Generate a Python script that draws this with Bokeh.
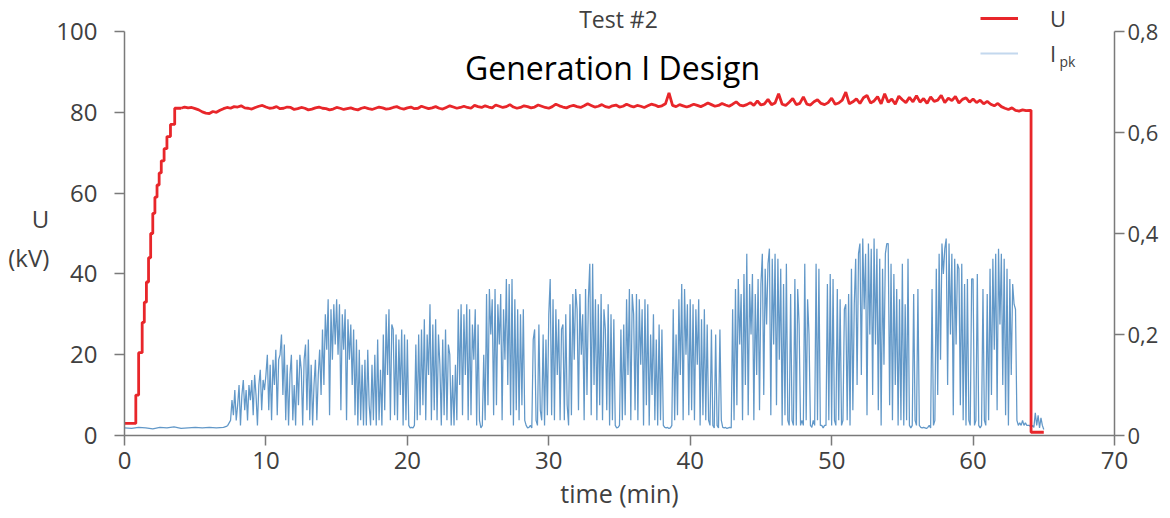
import numpy as np
from bokeh.plotting import figure
from bokeh.models import (Range1d, LinearAxis, FixedTicker, CustomJSTickFormatter,
                          Label, Legend, LegendItem)
from bokeh.embed import file_html
from bokeh.resources import INLINE

# ---------------- data ----------------
X_TICKS = [0, 10, 20, 30, 40, 50, 60, 70]
U_TICKS = [0, 20, 40, 60, 80, 100]
I_TICKS = [0, 0.2, 0.4, 0.6, 0.8]

# voltage ramp (time in min, U in kV), drawn as stairs
U_RAMP_T = [0, 0.6, 0.8, 1.0, 1.25, 1.4, 1.55, 1.7, 1.85, 2.0, 2.15, 2.3, 2.45, 2.6, 2.8, 3.0, 3.25, 3.55, 4.0]
U_RAMP_V = [3, 3, 10, 20.5, 28, 33, 38, 44, 50, 55, 59, 62, 65, 68, 71, 74, 77, 81, 81.0]

# voltage plateau, 4 readings per minute from 4.0 to 63.75 min
U_PLATEAU = [
    81.0, 81.3, 81.1, 81.2, 80.9, 80.6, 80.1, 79.8, 79.7, 80.2, 80.0, 80.5, 80.9, 81.2, 81.0, 81.4,
    81.3, 81.6, 81.1, 81.0, 80.8, 81.2, 81.5, 81.7, 81.3, 81.0, 81.1, 81.4, 80.9, 81.0, 81.3, 81.2,
    80.7, 80.9, 81.2, 81.0, 80.6, 80.8, 81.1, 81.3, 81.0, 80.9, 80.6, 80.8, 81.2, 81.0, 80.7, 80.9,
    81.1, 80.8, 80.6, 81.0, 81.2, 80.9, 80.7, 81.0, 81.3, 81.1, 80.8, 80.9, 81.2, 81.4, 81.0, 80.8,
    81.1, 81.3, 80.9, 81.0, 81.5, 81.2, 80.9, 81.1, 81.4, 81.0, 80.8, 81.2, 81.6, 81.3, 81.0, 81.2,
    81.5, 81.2, 81.0, 81.7, 81.4, 81.2, 81.6, 81.3, 81.1, 81.8, 81.5, 81.2, 81.4, 81.9, 81.3, 81.0,
    81.2, 81.6, 81.4, 81.1, 81.3, 81.8, 81.5, 81.2, 81.0, 81.4, 82.0, 81.6, 81.3, 81.1, 81.5, 81.7,
    81.4, 81.2, 81.6, 82.1, 81.7, 81.3, 81.5, 81.9, 81.4, 81.2, 81.6, 81.8, 81.3, 81.5, 82.0, 81.6,
    81.3, 81.7, 81.5, 81.2, 81.6, 82.0, 81.8, 81.4, 81.6, 82.1, 84.8, 81.7, 81.4, 81.9, 81.6, 81.3,
    81.6, 82.0, 81.7, 81.4, 81.8, 82.3, 81.9, 81.5, 81.7, 82.2, 81.8, 81.5, 82.0, 82.6, 81.8, 81.6,
    81.9, 82.4, 81.7, 82.8, 81.8, 82.1, 83.2, 81.9, 82.3, 84.6, 82.0, 81.7, 82.5, 83.4, 81.9, 82.2,
    83.8, 82.0, 81.8, 82.6, 83.1, 82.2, 81.9, 82.4, 83.5, 82.0, 82.3, 83.0, 85.0, 82.1, 82.6, 83.3,
    82.2, 83.6, 84.2, 82.3, 82.8, 83.9, 82.1, 84.6, 82.5, 83.3, 82.0, 84.0, 83.1, 82.4, 83.7, 82.6,
    84.1, 82.5, 83.4, 82.2, 83.8, 82.7, 83.0, 84.2, 82.4, 83.5, 82.9, 83.9, 82.3, 83.2, 83.6, 82.5,
    83.3, 82.4, 83.0, 82.1, 82.7, 82.0, 81.6, 82.2, 81.4, 81.0, 80.7, 81.1, 80.5, 80.3, 80.6, 80.4,
]
U_END_T = [64.0, 64.1, 64.1, 65.0]
U_END_V = [80.5, 80.5, 0.8, 0.8]

# peak current (A): quiet start, then 10 readings per minute from 7.0 min
I_PRE_T = [0, 0.5, 1.0, 1.5, 2.0, 2.5, 3.0, 3.5, 4.0, 4.5, 5.0, 5.5, 6.0, 6.5]
I_PRE_V = [0.015, 0.014, 0.016, 0.015, 0.013, 0.016, 0.015, 0.017, 0.014, 0.015, 0.016, 0.015, 0.016, 0.015]
I_PK = [
    0.016, 0.017, 0.018, 0.02, 0.025, 0.03, 0.07, 0.04, 0.09, 0.03,
    0.06, 0.10, 0.02, 0.08, 0.11, 0.05, 0.09, 0.03, 0.10, 0.07,
    0.11, 0.04, 0.12, 0.08, 0.02, 0.10, 0.13, 0.05, 0.11, 0.09,
    0.12, 0.16, 0.05, 0.14, 0.03, 0.15, 0.10, 0.17, 0.04, 0.15,
    0.16, 0.20, 0.08, 0.18, 0.03, 0.14, 0.02, 0.12, 0.16, 0.03,
    0.10, 0.02, 0.15, 0.06, 0.16, 0.13, 0.02, 0.15, 0.18, 0.05,
    0.19, 0.03, 0.14, 0.02, 0.10, 0.15, 0.03, 0.12, 0.17, 0.08,
    0.21, 0.10, 0.24, 0.17, 0.27, 0.04, 0.25, 0.15, 0.26, 0.18,
    0.27, 0.16, 0.26, 0.05, 0.24, 0.17, 0.25, 0.03, 0.23, 0.15,
    0.22, 0.10, 0.21, 0.04, 0.19, 0.02, 0.17, 0.03, 0.14, 0.02,
    0.15, 0.02, 0.17, 0.06, 0.02, 0.14, 0.03, 0.16, 0.02, 0.19,
    0.03, 0.13, 0.02, 0.20, 0.05, 0.24, 0.12, 0.25, 0.03, 0.22,
    0.21, 0.04, 0.20, 0.03, 0.19, 0.08, 0.21, 0.02, 0.20, 0.03,
    0.19, 0.02, 0.015, 0.016, 0.015, 0.02, 0.18, 0.03, 0.20, 0.04,
    0.21, 0.06, 0.23, 0.03, 0.20, 0.12, 0.26, 0.03, 0.22, 0.05,
    0.23, 0.03, 0.20, 0.14, 0.02, 0.19, 0.04, 0.21, 0.03, 0.18,
    0.16, 0.02, 0.12, 0.02, 0.14, 0.03, 0.25, 0.10, 0.26, 0.04,
    0.24, 0.12, 0.26, 0.03, 0.25, 0.04, 0.22, 0.15, 0.25, 0.02,
    0.22, 0.03, 0.015, 0.02, 0.16, 0.03, 0.28, 0.06, 0.29, 0.20,
    0.27, 0.04, 0.29, 0.06, 0.26, 0.18, 0.28, 0.03, 0.25, 0.15,
    0.31, 0.10, 0.30, 0.04, 0.31, 0.02, 0.27, 0.05, 0.25, 0.03,
    0.24, 0.06, 0.25, 0.03, 0.02, 0.015, 0.016, 0.02, 0.015, 0.19,
    0.21, 0.03, 0.02, 0.22, 0.05, 0.03, 0.20, 0.02, 0.19, 0.04,
    0.24, 0.31, 0.04, 0.27, 0.03, 0.25, 0.12, 0.23, 0.03, 0.21,
    0.22, 0.03, 0.24, 0.06, 0.02, 0.26, 0.04, 0.28, 0.15, 0.29,
    0.25, 0.05, 0.28, 0.16, 0.24, 0.03, 0.29, 0.08, 0.27, 0.34,
    0.04, 0.34, 0.10, 0.27, 0.03, 0.26, 0.06, 0.28, 0.03, 0.25,
    0.21, 0.05, 0.26, 0.02, 0.24, 0.03, 0.23, 0.02, 0.015, 0.016,
    0.02, 0.21, 0.03, 0.22, 0.04, 0.27, 0.12, 0.29, 0.03, 0.28,
    0.24, 0.05, 0.28, 0.03, 0.27, 0.14, 0.25, 0.02, 0.27, 0.06,
    0.26, 0.02, 0.20, 0.08, 0.24, 0.03, 0.19, 0.02, 0.22, 0.03,
    0.21, 0.02, 0.016, 0.015, 0.016, 0.014, 0.015, 0.02, 0.25, 0.03,
    0.20, 0.04, 0.27, 0.12, 0.30, 0.03, 0.29, 0.16, 0.26, 0.04,
    0.27, 0.05, 0.26, 0.03, 0.25, 0.14, 0.27, 0.02, 0.23, 0.04,
    0.25, 0.03, 0.22, 0.03, 0.02, 0.21, 0.02, 0.015, 0.20, 0.02,
    0.015, 0.21, 0.03, 0.016, 0.015, 0.016, 0.014, 0.015, 0.016, 0.015,
    0.25, 0.03, 0.29, 0.06, 0.31, 0.18, 0.28, 0.03, 0.32, 0.10,
    0.36, 0.04, 0.30, 0.20, 0.32, 0.03, 0.28, 0.12, 0.31, 0.05,
    0.30, 0.36, 0.08, 0.33, 0.22, 0.34, 0.37, 0.04, 0.35, 0.18,
    0.36, 0.06, 0.35, 0.15, 0.33, 0.02, 0.30, 0.04, 0.34, 0.03,
    0.02, 0.28, 0.03, 0.02, 0.31, 0.02, 0.29, 0.22, 0.02, 0.03,
    0.02, 0.34, 0.03, 0.27, 0.20, 0.02, 0.016, 0.03, 0.02, 0.34,
    0.03, 0.33, 0.02, 0.02, 0.015, 0.02, 0.02, 0.30, 0.03, 0.32,
    0.02, 0.31, 0.03, 0.02, 0.29, 0.03, 0.27, 0.02, 0.03, 0.25,
    0.26, 0.03, 0.28, 0.02, 0.33, 0.05, 0.26, 0.35, 0.10, 0.36,
    0.38, 0.12, 0.39, 0.25, 0.36, 0.04, 0.38, 0.20, 0.37, 0.08,
    0.39, 0.18, 0.37, 0.05, 0.35, 0.02, 0.33, 0.14, 0.36, 0.38,
    0.38, 0.06, 0.34, 0.03, 0.32, 0.10, 0.29, 0.02, 0.27, 0.03,
    0.34, 0.02, 0.26, 0.03, 0.35, 0.02, 0.015, 0.02, 0.28, 0.03,
    0.02, 0.29, 0.02, 0.016, 0.015, 0.016, 0.015, 0.014, 0.016, 0.02,
    0.015, 0.29, 0.02, 0.03, 0.33, 0.08, 0.36, 0.15, 0.38, 0.32,
    0.37, 0.39, 0.10, 0.38, 0.20, 0.36, 0.04, 0.35, 0.18, 0.34,
    0.33, 0.06, 0.34, 0.03, 0.30, 0.02, 0.31, 0.03, 0.02, 0.31,
    0.31, 0.02, 0.03, 0.32, 0.02, 0.015, 0.02, 0.29, 0.03, 0.02,
    0.28, 0.03, 0.33, 0.08, 0.35, 0.17, 0.36, 0.05, 0.37, 0.22,
    0.36, 0.10, 0.35, 0.04, 0.33, 0.02, 0.31, 0.12, 0.30, 0.26,
    0.25, 0.03, 0.02, 0.025, 0.02, 0.03, 0.02, 0.025, 0.02, 0.02,
    0.02, 0.015, 0.02, 0.016, 0.045, 0.02, 0.04, 0.015, 0.035, 0.02,
]
I_END_T = [65.0]
I_END_V = [0.012]

# ---------------- assemble series ----------------
plat_t = [4.0 + 0.25 * k for k in range(len(U_PLATEAU))]
u_line_t = plat_t + U_END_T
u_line_v = U_PLATEAU + U_END_V
i_t = I_PRE_T + [round(7.0 + 0.1 * k, 2) for k in range(len(I_PK))] + I_END_T
i_v = I_PRE_V + I_PK + I_END_V

FONT = "Open Sans"
GREY = "#404040"
AX = "#7a7a7a"
RED = "#e8262a"

# frame spans canvas rows 0..435 so that 0..100 kV maps onto rows 435..31
FRAME_H = 435.0
U_TOP = 100 * FRAME_H / 404.0
I_TOP = 0.8 * FRAME_H / 404.0

p = figure(width=1170, height=518, output_backend="svg", toolbar_location=None,
           title=None, x_range=Range1d(0, 70), y_range=Range1d(0, U_TOP),
           min_border_left=124, min_border_right=56, min_border_top=0, min_border_bottom=83)
p.extra_y_ranges = {"amps": Range1d(0, I_TOP)}
p.extra_x_ranges = {"legend_only": Range1d(1000, 1001)}
p.outline_line_color = None
p.grid.visible = False
p.background_fill_color = "white"
p.border_fill_color = "white"

# data
p.line(i_t, i_v, y_range_name="amps", line_color="#2e75b6", line_alpha=0.75, line_width=1.25)
p.step(U_RAMP_T, U_RAMP_V, mode="after", line_color=RED, line_width=2.8)
p.line(u_line_t, u_line_v, line_color=RED, line_width=2.8)

# legend swatches: same series on an x-range that keeps them entirely out of view
leg_u = p.line(u_line_t, u_line_v, x_range_name="legend_only", line_color=RED, line_width=3)
leg_i = p.line(i_t, i_v, x_range_name="legend_only", y_range_name="amps",
               line_color="#c3d8ee", line_width=2)

# axes
def style(ax, ticks, bounds):
    ax.ticker = FixedTicker(ticks=ticks)
    ax.bounds = bounds
    ax.axis_line_color = AX
    ax.axis_line_width = 1.5
    ax.major_tick_line_color = AX
    ax.major_tick_line_width = 1.5
    ax.major_tick_in = 0
    ax.major_tick_out = 10
    ax.minor_tick_line_color = None
    ax.major_label_text_font = FONT
    ax.major_label_text_font_size = "24px"
    ax.major_label_text_color = GREY
    ax.axis_label_text_font = FONT
    ax.axis_label_text_font_size = "24px"
    ax.axis_label_text_color = GREY
    ax.axis_label_text_font_style = "normal"

style(p.xaxis[0], X_TICKS, (0, 70))
p.xaxis[0].major_label_standoff = 6
p.xaxis[0].axis_label = "time (min)"
p.xaxis[0].axis_label_standoff = 4
p.xaxis[0].axis_label_text_font_size = "25px"

style(p.yaxis[0], U_TICKS, (0, 100))
p.yaxis[0].major_label_standoff = 17
p.yaxis[0].axis_label = "\nU\n(kV)"
p.yaxis[0].axis_label_orientation = "horizontal"
p.yaxis[0].axis_label_standoff = 4

rax = LinearAxis(y_range_name="amps")
style(rax, I_TICKS, (0, 0.8))
rax.major_label_standoff = 3
rax.major_label_text_font_size = "22px"
rax.formatter = CustomJSTickFormatter(
    code="return tick == 0 ? '0' : tick.toFixed(1).replace('.', ',');")
p.add_layout(rax, "right")

# texts (positions in px relative to the plot frame, y upward from its bottom)
def lab(x, y, text, size, color=GREY, align="center"):
    p.add_layout(Label(x=x, y=y, x_units="screen", y_units="screen", text=text,
                       text_font=FONT, text_font_size=size, text_color=color,
                       text_align=align, text_baseline="middle"))

lab(494, 417, "Test #2", "23px")
lab(488, 368, "Generation I Design", "32px", color="#000000")

# legend
legend = Legend(items=[LegendItem(label="U", renderers=[leg_u]),
                       LegendItem(label="I", renderers=[leg_i])],
                location=(856, 367), orientation="vertical", padding=0, margin=0,
                spacing=5, glyph_width=38, glyph_height=26, label_height=26,
                label_standoff=32, border_line_color=None, background_fill_alpha=0,
                label_text_font=FONT, label_text_font_size="22px",
                label_text_color=GREY)
p.add_layout(legend)
lab(935, 374, "pk", "14px", align="left")

open("out.html", "w").write(file_html(p, INLINE))
